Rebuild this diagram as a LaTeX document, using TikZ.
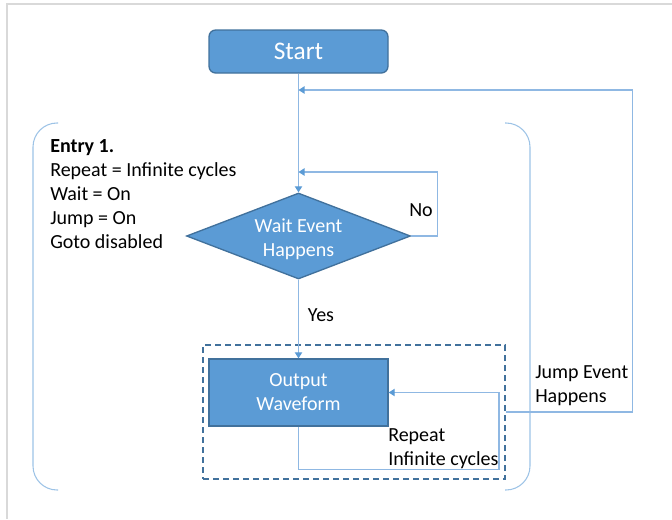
\documentclass[tikz,border=0pt]{standalone}
\usepackage{fontspec}
\setmainfont{Carlito}
\usepackage{xcolor}
\usetikzlibrary{shapes.geometric,arrows.meta}

\definecolor{boxblue}{HTML}{5B9BD5}
\definecolor{boxedge}{HTML}{41719C}
\definecolor{linkblue}{HTML}{8FB8E3}
\definecolor{braceblue}{HTML}{9DC3E6}
\definecolor{framegray}{HTML}{D9D9D9}

\begin{document}
\begin{tikzpicture}[x=0.75pt,y=-0.75pt,
    font=\fontsize{15pt}{18pt}\selectfont,
    blockbox/.style={draw=boxedge, line width=1pt, fill=boxblue, text=white,
      minimum width=134.25pt, inner sep=0pt, align=center},
    link/.style={draw=linkblue, line width=0.8pt,
      -{Triangle[width=5.5pt,length=4.5pt,color=boxblue]}},
    brace/.style={draw=braceblue, line width=0.8pt, rounded corners=18pt},
    label/.style={inner sep=0pt, align=left}]

  % 画布范围
  \useasboundingbox (0,0) rectangle (672,519);
  \draw[framegray, line width=1pt] (672,4) -- (7,4) -- (7,519);

  % 括号
  \draw[brace] (58,123) -- (33,123) -- (33,490) -- (58,490);
  \draw[brace] (505,123) -- (530,123) -- (530,490) -- (505,490);

  % 节点
  \node[blockbox, rounded corners=5pt, minimum height=32.25pt,
    font=\fontsize{19pt}{22pt}\selectfont] (start) at (298.5,51.5) {Start};
  \node[blockbox, shape=diamond, aspect=2.6, minimum width=168pt,
    minimum height=64.5pt] (wait) at (298.5,236)
    {\raisebox{-3pt}[\height][\depth]{\begin{tabular}{@{}c@{}}Wait Event\\Happens\end{tabular}}};
  \node[blockbox, minimum height=50.25pt] (out) at (298.5,392.5) {Output\\Waveform};
  \node[draw=boxedge, line width=1pt, dash pattern=on 4.5pt off 3pt,
    minimum width=226.5pt, minimum height=100.5pt] (grp) at (354,412) {};

  % 汇入点
  \coordinate (jumpin) at (298.5,90);
  \coordinate (noin) at (298.5,172);

  % 连线
  \draw[link] (start.south) -- (wait.north);
  \draw[link] (wait.south) -- (out.north);
  \draw[link] (wait.east) -- ++(26,0) |- (noin);
  \draw[link] (grp.east) -- ++(127,0) |- (jumpin);
  \draw[link] (out.south) |- ++(200.5,43) |- (out.east);

  % 标签
  \node[label, anchor=north west] (entry) at (50,139)
    {\textbf{Entry 1.}\\Repeat = Infinite cycles\\Wait = On\\Jump = On\\Goto disabled};
  \node[label] (no) at (421,210) {No};
  \node[label] (yes) at (321,315) {Yes};
  \node[label, anchor=west] (rpt) at (388,449) {Repeat\\Infinite cycles};
  \node[label, anchor=west] (jump) at (535,386) {Jump Event\\Happens};
\end{tikzpicture}
\end{document}
